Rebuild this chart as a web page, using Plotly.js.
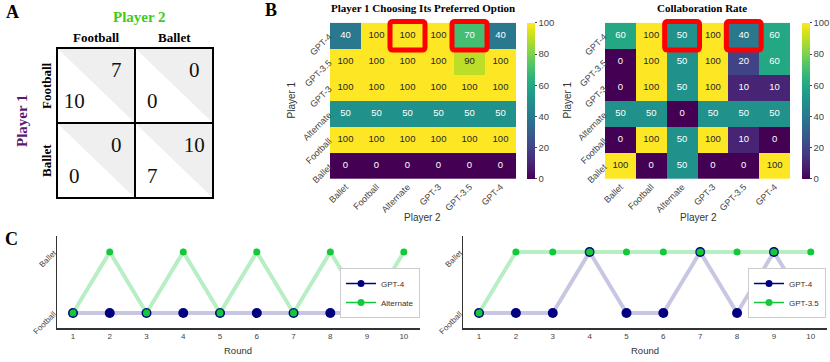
<!DOCTYPE html>
<html><head><meta charset="utf-8">
<script src="https://cdn.plot.ly/plotly-3.0.1.min.js"></script>
<style>html,body{margin:0;padding:0;background:#fff}#chart{width:830px;height:362px}</style>
</head><body><div id="chart"></div>
<script>
// ---------- data ----------
const strategies = ['Ballet','Football','Alternate','GPT-3','GPT-3.5','GPT-4'];   // Player 2 (columns)
const rowLabels  = ['GPT-4','GPT-3.5','GPT-3','Alternate','Football','Ballet'];   // Player 1 (rows, top to bottom)
const preferredRate = [
  [40,100,100,100,70,40],
  [100,100,100,100,90,100],
  [100,100,100,100,100,100],
  [50,50,50,50,50,50],
  [100,100,100,100,100,100],
  [0,0,0,0,0,0]
];
const collabRate = [
  [60,100,50,100,40,60],
  [0,100,50,100,20,60],
  [0,100,50,100,10,10],
  [50,50,0,50,50,50],
  [0,100,50,100,10,0],
  [100,0,50,0,0,100]
];
const highlightRow = ['GPT-4','GPT-4'];
const highlightCol = ['Alternate','GPT-3.5'];

const choices  = ['Football','Ballet'];
const payoffP1 = [[10,0],[0,7]];
const payoffP2 = [[7,0],[0,10]];

const rounds = [1,2,3,4,5,6,7,8,9,10];
const leftGPT4      = ['Football','Football','Football','Football','Football','Football','Football','Football','Football','Football'];
const leftAlternate = ['Football','Ballet','Football','Ballet','Football','Ballet','Football','Ballet','Football','Ballet'];
const rightGPT4     = ['Football','Football','Football','Ballet','Football','Football','Ballet','Football','Ballet','Football'];
const rightGPT35    = ['Football','Ballet','Ballet','Ballet','Ballet','Ballet','Ballet','Ballet','Ballet','Ballet'];

// ---------- helpers ----------
const W = 830, H = 362;
const fx = p => p / W;
const fy = p => 1 - p / H;
const SANS = 'Liberation Sans, Arial, sans-serif';
const SERIF = 'Liberation Serif, Times New Roman, serif';
const NAVY = '#000080', GREEN = '#14c83c';

const traces = [];
const shapes = [];
const annotations = [];

function roundedRect(x0, x1, y0, y1, rx, ry) {
  return `M ${x0+rx},${y1} L ${x1-rx},${y1} Q ${x1},${y1} ${x1},${y1-ry} L ${x1},${y0+ry} Q ${x1},${y0} ${x1-rx},${y0} ` +
         `L ${x0+rx},${y0} Q ${x0},${y0} ${x0},${y0+ry} L ${x0},${y1-ry} Q ${x0},${y1} ${x0+rx},${y1} Z`;
}

function heat(z, xa, ya, cbx, widthPx) {
  traces.push({type:'heatmap', x: strategies, y: rowLabels, z: z, xaxis: xa, yaxis: ya,
    colorscale:'Viridis', zmin:0, zmax:100, hoverinfo:'skip',
    colorbar:{x: fx(cbx), xanchor:'left', xpad:0, ypad:0, y: fy(100.85), yanchor:'middle', len: 156.3/H, lenmode:'fraction',
      thickness:8, outlinewidth:0, tickvals:[0,20,40,60,80,100], ticks:'outside', ticklen:2, tickcolor:'#444',
      tickfont:{family:SANS, size:9.5, color:'#444'}}});
  const tx=[], ty=[], tt=[], tc=[];
  z.forEach((row,r)=>row.forEach((v,c)=>{
    tx.push(strategies[c]); ty.push(rowLabels[r]); tt.push(String(v));
    tc.push(v >= 75 ? '#262626' : '#ffffff');
  }));
  traces.push({type:'scatter', mode:'text', x:tx, y:ty, text:tt, xaxis:xa, yaxis:ya, hoverinfo:'skip', showlegend:false,
    textfont:{family:SANS, size:9.5, color:tc}});
  const xd = xa + ' domain', yd = ya + ' domain';
  highlightRow.forEach((rl,i)=>{
    const r = rowLabels.indexOf(rl), c = strategies.indexOf(highlightCol[i]);
    const cx = (c+0.5)/6, cy = 1-(r+0.5)/6;
    shapes.push({type:'path', xref:xd, yref:yd,
      path: roundedRect(cx-0.565/6, cx+0.565/6, cy-0.55/6, cy+0.55/6, 3/widthPx, 3/156.3),
      line:{color:'#ff0000', width:5}, layer:'above'});
  });
}
heat(preferredRate, 'x', 'y', 527, 186);
heat(collabRate, 'x2', 'y2', 802, 185);

function lineSeries(yv, color, lineColor, msize, xa, ya, name, legendId) {
  traces.push({type:'scatter', mode:'lines+markers', x: rounds, y: yv, xaxis:xa, yaxis:ya, showlegend:false, hoverinfo:'skip',
    line:{color:lineColor, width:4}, marker:{color:color, size:msize}});
  traces.push({type:'scatter', mode:'lines+markers', x:[null], y:[null], xaxis:xa, yaxis:ya, name:name, legend:legendId,
    line:{color:color, width:1.5}, marker:{color:color, size:7}});
}
lineSeries(leftGPT4, NAVY, 'rgba(0,0,128,0.22)', 10, 'x3', 'y3', 'GPT-4', 'legend');
lineSeries(leftAlternate, GREEN, 'rgba(20,200,60,0.3)', 7, 'x3', 'y3', 'Alternate', 'legend');
lineSeries(rightGPT4, NAVY, 'rgba(0,0,128,0.22)', 10, 'x4', 'y4', 'GPT-4', 'legend2');
lineSeries(rightGPT35, GREEN, 'rgba(20,200,60,0.3)', 7, 'x4', 'y4', 'GPT-3.5', 'legend2');

// ---------- payoff matrix (panel A) ----------
const px=[], py=[], pt=[];
choices.forEach((rc,r)=>choices.forEach((cc,c)=>{
  shapes.push({type:'path', xref:'x5', yref:'y5', layer:'below',
    path:`M ${c},${2-r} L ${c+1},${2-r} L ${c+1},${1-r} Z`, fillcolor:'#efefef', line:{width:0}});
  px.push(c+0.76); py.push(2-r-0.32); pt.push(String(payoffP2[r][c]));
  px.push(c+0.22); py.push(2-r-0.73); pt.push(String(payoffP1[r][c]));
}));
traces.push({type:'scatter', mode:'text', x:px, y:py, text:pt, xaxis:'x5', yaxis:'y5', hoverinfo:'skip', showlegend:false,
  textfont:{family:SERIF, size:21, color:'#111'}});
shapes.push({type:'rect', xref:'x5 domain', yref:'y5 domain', x0:0, x1:1, y0:0, y1:1, line:{color:'#000', width:2}});
shapes.push({type:'line', xref:'x5', yref:'y5 domain', x0:1, x1:1, y0:0, y1:1, line:{color:'#000', width:2}});
shapes.push({type:'line', xref:'x5 domain', yref:'y5', x0:0, x1:1, y0:1, y1:1, line:{color:'#000', width:2}});

function ann(text, x, y, opts) {
  annotations.push(Object.assign({text:text, x:fx(x), y:fy(y), xref:'paper', yref:'paper', showarrow:false,
    xanchor:'center', yanchor:'middle'}, opts||{}));
}
const serifB = (s,c)=>({family:SERIF, size:s, color:c||'#000', weight:'bold'});
const sans = (s)=>({family:SANS, size:s, color:'#333'});
ann('A', 12, 12.5, {font:serifB(18)});
ann('B', 271, 10, {font:serifB(18)});
ann('C', 11, 239, {font:serifB(18)});
ann('Player 2', 139, 17, {font:serifB(15,'#3fcc18')});
ann('Player 1', 22, 121, {font:serifB(15,'#5b1a72'), textangle:-90});
choices.forEach((c,i)=>{
  annotations.push({text:c, xref:'x5', x:i+0.5, yref:'paper', y:fy(37), xanchor:'center', yanchor:'middle',
    showarrow:false, font:serifB(13)});
  annotations.push({text:c, xref:'paper', x:fx(46.5), yref:'y5', y:2-i-0.5, xanchor:'center', yanchor:'middle',
    showarrow:false, font:serifB(13), textangle:-90});
});
ann('Player 1 Choosing Its Preferred Option', 423, 8, {font:serifB(11)});
ann('Collaboration Rate', 702, 8, {font:serifB(11)});
ann('Player 1', 291.5, 100, {font:sans(10), textangle:-90});
ann('Player 1', 567.5, 100, {font:sans(10), textangle:-90});
ann('Player 2', 423, 217, {font:sans(10)});
ann('Player 2', 698, 217, {font:sans(10)});
ann('Round', 238, 350, {font:sans(9.5)});
ann('Round', 645, 350, {font:sans(9.5)});

// ---------- axes ----------
const hx = (d, anchor)=>({domain:d, anchor:anchor, type:'category', categoryarray:strategies, tickangle:-45, showgrid:false, zeroline:false,
  ticks:'', showline:false, tickfont:{family:SANS, size:9, color:'#444'}, fixedrange:true});
const hy = (d, anchor)=>({domain:d, anchor:anchor, type:'category', categoryarray:rowLabels, autorange:'reversed', tickangle:-45, showgrid:false,
  zeroline:false, ticks:'', showline:false, tickfont:{family:SANS, size:9, color:'#444'}, fixedrange:true});
const lx = (d, anchor)=>({domain:d, anchor:anchor, range:[0.565,10.44], tickvals:rounds, showgrid:false, zeroline:false, ticks:'',
  showline:true, linecolor:'#333', linewidth:1.5, tickfont:{family:SANS, size:8, color:'#444'}, fixedrange:true});
const ly = (d, anchor)=>({domain:d, anchor:anchor, type:'category', categoryarray:choices, range:[-0.246,1.262], tickangle:-45, showgrid:false,
  zeroline:false, ticks:'', showline:true, linecolor:'#333', linewidth:1.5, tickfont:{family:SANS, size:8, color:'#444'}, fixedrange:true});

const hyDom = [fy(179), fy(22.7)];
const lyDom = [fy(328), fy(236)];
const layout = {
  width:W, height:H, margin:{l:0,r:0,t:0,b:0,autoexpand:false}, paper_bgcolor:'#fff', plot_bgcolor:'#fff',
  xaxis: hx([fx(330), fx(516)], 'y'), yaxis: hy(hyDom, 'x'),
  xaxis2: hx([fx(605), fx(790)], 'y2'), yaxis2: hy(hyDom, 'x2'),
  xaxis3: lx([fx(57), fx(420)], 'y3'), yaxis3: ly(lyDom, 'x3'),
  xaxis4: lx([fx(463), fx(827)], 'y4'), yaxis4: ly(lyDom, 'x4'),
  xaxis5: {domain:[fx(57), fx(213)], anchor:'y5', range:[0,2], visible:false, fixedrange:true},
  yaxis5: {domain:[fy(198), fy(48)], anchor:'x5', range:[0,2], visible:false, fixedrange:true},
  legend: {x:fx(420), xanchor:'right', y:fy(268), yanchor:'top', bgcolor:'#fff', bordercolor:'#ccc', borderwidth:1,
    font:{family:SANS, size:8, color:'#333'}, itemwidth:30, tracegroupgap:0},
  legend2: {x:fx(826), xanchor:'right', y:fy(268), yanchor:'top', bgcolor:'#fff', bordercolor:'#ccc', borderwidth:1,
    font:{family:SANS, size:8, color:'#333'}, itemwidth:30, tracegroupgap:0},
  shapes: shapes, annotations: annotations, showlegend:true
};
Plotly.newPlot('chart', traces, layout, {staticPlot:true, displayModeBar:false});
</script></body></html>
